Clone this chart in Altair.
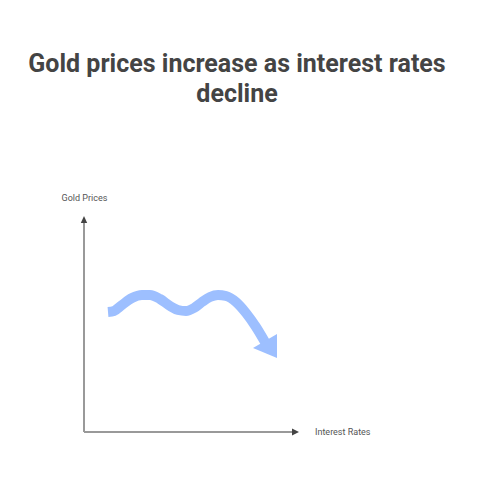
import altair as alt
import pandas as pd

# Title
title_lines = ["Gold prices increase as interest rates", "decline"]
y_axis_label = "Gold Prices"
x_axis_label = "Interest Rates"

# Trend curve (axis units: origin at the axes corner, y upward)
curve_x = [24, 30, 38, 48, 58, 66, 76, 86, 94, 102, 110, 118, 126, 134, 142, 152, 162, 172, 181]
curve_y = [120, 121, 127, 134, 137, 137, 133, 126, 122, 121, 124, 130, 135, 137, 136, 130, 119, 105, 90]

# Arrowhead at the end of the curve
head_x = [169, 193]
head_top = [84, 98]
head_bot = [84, 74]

# Axes extents
axis_len_x = 209
axis_len_y = 209

XS = alt.Scale(domain=[-76, 388])
YS = alt.Scale(domain=[-46, 424])

BLUE = "#9dbfff"
AX = "#999999"
HEAD = "#444444"

curve_df = pd.DataFrame({"x": curve_x, "y": curve_y, "o": list(range(len(curve_x)))})
curve = alt.Chart(curve_df).mark_line(
    color=BLUE, strokeWidth=10, interpolate="monotone", strokeCap="butt"
).encode(
    x=alt.X("x:Q", scale=XS, axis=None),
    y=alt.Y("y:Q", scale=YS, axis=None),
    order="o:Q",
)

head_df = pd.DataFrame({"x": head_x, "y": head_top, "y2": head_bot})
head = alt.Chart(head_df).mark_area(color=BLUE, opacity=1).encode(
    x=alt.X("x:Q", scale=XS, axis=None),
    y=alt.Y("y:Q", scale=YS, axis=None),
    y2="y2:Q",
)

yaxis_df = pd.DataFrame({"x": [0], "y": [0], "y2": [axis_len_y]})
yaxis = alt.Chart(yaxis_df).mark_rule(color=AX, strokeWidth=2).encode(
    x=alt.X("x:Q", scale=XS, axis=None),
    y=alt.Y("y:Q", scale=YS, axis=None),
    y2="y2:Q",
)

xaxis_df = pd.DataFrame({"x": [0], "x2": [axis_len_x], "y": [0]})
xaxis = alt.Chart(xaxis_df).mark_rule(color=AX, strokeWidth=2).encode(
    x=alt.X("x:Q", scale=XS, axis=None),
    x2="x2:Q",
    y=alt.Y("y:Q", scale=YS, axis=None),
)

yhead_df = pd.DataFrame({"y": [axis_len_y, axis_len_y + 7], "x": [-3.2, 0], "x2": [3.2, 0]})
yhead = alt.Chart(yhead_df).mark_area(color=HEAD, orient="horizontal").encode(
    y=alt.Y("y:Q", scale=YS, axis=None),
    x=alt.X("x:Q", scale=XS, axis=None),
    x2="x2:Q",
)

xhead_df = pd.DataFrame({"x": [axis_len_x - 1, axis_len_x + 6], "y": [3.5, 0], "y2": [-3.5, 0]})
xhead = alt.Chart(xhead_df).mark_area(color=HEAD).encode(
    x=alt.X("x:Q", scale=XS, axis=None),
    y=alt.Y("y:Q", scale=YS, axis=None),
    y2="y2:Q",
)

ylab_df = pd.DataFrame({"x": [0.5], "y": [231], "t": [y_axis_label]})
ylab = alt.Chart(ylab_df).mark_text(
    font="Roboto", fontSize=9, color="#555555", align="center", baseline="alphabetic"
).encode(
    x=alt.X("x:Q", scale=XS, axis=None),
    y=alt.Y("y:Q", scale=YS, axis=None),
    text="t:N",
)

xlab_df = pd.DataFrame({"x": [231], "y": [0], "t": [x_axis_label]})
xlab = alt.Chart(xlab_df).mark_text(
    font="Roboto", fontSize=9, color="#555555", align="left", baseline="middle"
).encode(
    x=alt.X("x:Q", scale=XS, axis=None),
    y=alt.Y("y:Q", scale=YS, axis=None),
    text="t:N",
)

title_df = pd.DataFrame({"x": [153, 153], "y": [360, 330], "t": title_lines})
title = alt.Chart(title_df).mark_text(
    font="Roboto", fontSize=25, fontWeight="bold", color="#444444",
    align="center", baseline="alphabetic"
).encode(
    x=alt.X("x:Q", scale=XS, axis=None),
    y=alt.Y("y:Q", scale=YS, axis=None),
    text="t:N",
)

chart = alt.layer(
    yaxis, xaxis, yhead, xhead, curve, head, ylab, xlab, title
).properties(
    width=464, height=470, padding=0, autosize=alt.AutoSizeParams(type="none"),
    background="white",
).configure_view(stroke=None)

chart.save("out.html", embed_options={"renderer": "svg", "actions": False})
